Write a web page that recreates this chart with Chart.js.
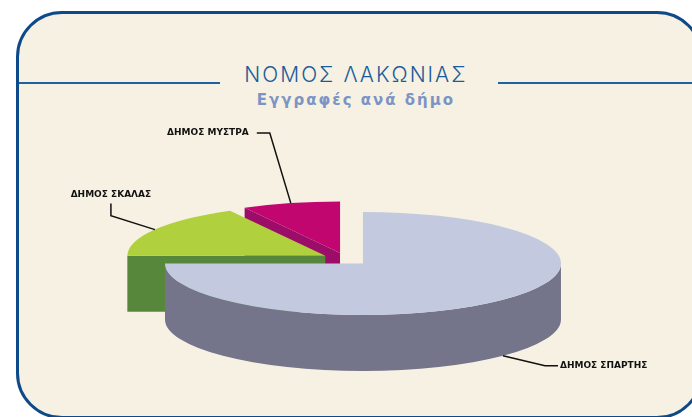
<!DOCTYPE html>
<html lang="el">
<head>
<meta charset="utf-8">
<title>Νομός Λακωνίας - Εγγραφές ανά δήμο</title>
<script src="https://cdn.jsdelivr.net/npm/chart.js@4.4.1/dist/chart.umd.min.js"></script>
<style>
  html, body { margin: 0; padding: 0; background: #ffffff; }
  #wrap { position: relative; width: 692px; height: 417px; overflow: hidden; }
  .card {
    position: absolute; left: 16px; top: 11px; width: 687px; height: 408px;
    box-sizing: border-box; border: 3px solid #0e4a8a; border-radius: 46px;
    background: #f6f1e2;
  }
  .rule { position: absolute; top: 82px; height: 2px; background: #1f62a0; }
  .rule.left { left: 19px; width: 201px; }
  .rule.right { left: 498px; width: 200px; }
  h1, h2 { position: absolute; left: 0; width: 712px; margin: 0; text-align: center; }
  h1 { top: 64px; font: 300 21px/21px Inter, sans-serif; letter-spacing: 2px; color: #1a5c9b; }
  h2 { top: 93px; font: bold 15px/15px "DejaVu Sans", sans-serif; letter-spacing: 2px; color: #7b94c5; }
  #pie { position: absolute; left: 0; top: 0; }
</style>
</head>
<body>
<div id="wrap">
  <div class="card"></div>
  <div class="rule left"></div>
  <div class="rule right"></div>
  <h1>ΝΟΜΟΣ ΛΑΚΩΝΙΑΣ</h1>
  <h2>Εγγραφές ανά δήμο</h2>
  <canvas id="pie" width="692" height="417"></canvas>
</div>
<script>
// --- data: share of registrations per municipality (%) ---
var districts = ['ΔΗΜΟΣ ΣΠΑΡΤΗΣ', 'ΔΗΜΟΣ ΣΚΑΛΑΣ', 'ΔΗΜΟΣ ΜΥΣΤΡΑ'];
var shares = [75, 17, 8];

// top face / side wall colours for each slice
var topColors  = ['#c3cadf', '#b1d03e', '#c1066f'];
var sideColors = ['#74748a', '#57873b', '#9c0d69'];

// 3d look: vertical squash of the disc and wall height in px
var tilt = 0.26;
var depth = 56;

// leader lines: elbow relative to the rim anchor, then a short tail
var leaders = [
  { elbow: [42, 10],   tail: [13, 0],   align: 'left',   gap: 2 },
  { elbow: [-44, -14], tail: [0, -12],  align: 'center', gap: 9 },
  { elbow: [-21, -70], tail: [-13, 0],  align: 'right',  gap: 8 }
];

function sliceGeometry(chart) {
  var meta = chart.getDatasetMeta(0);
  return meta.data.map(function(arc, i) {
    var a = arc.getProps(['x', 'y', 'startAngle', 'endAngle', 'outerRadius'], true);
    var mid = (a.startAngle + a.endAngle) / 2;
    var off = arc.options.offset || 0;
    return {
      i: i,
      start: a.startAngle,
      end: a.endAngle,
      mid: mid,
      r: a.outerRadius,
      cx: a.x + Math.cos(mid) * off,
      cy: a.y + Math.sin(mid) * off * tilt
    };
  });
}

function drawSlice(ctx, s) {
  var rx = s.r, ry = s.r * tilt;

  ctx.fillStyle = sideColors[s.i];
  // radial cut faces that turn towards the viewer
  [[s.start, Math.cos(s.start) < -1e-9], [s.end, Math.cos(s.end) > 1e-9]].forEach(function(f) {
    if (!f[1]) return;
    var px = s.cx + Math.cos(f[0]) * rx;
    var py = s.cy + Math.sin(f[0]) * ry;
    ctx.beginPath();
    ctx.moveTo(s.cx, s.cy);
    ctx.lineTo(px, py);
    ctx.lineTo(px, py + depth);
    ctx.lineTo(s.cx, s.cy + depth);
    ctx.closePath();
    ctx.fill();
  });

  // outer wall, only the front half of the rim
  for (var k = -1; k <= 1; k++) {
    var a = Math.max(s.start, 2 * Math.PI * k);
    var b = Math.min(s.end, 2 * Math.PI * k + Math.PI);
    if (b <= a) continue;
    ctx.beginPath();
    ctx.ellipse(s.cx, s.cy, rx, ry, 0, a, b);
    ctx.ellipse(s.cx, s.cy + depth, rx, ry, 0, b, a, true);
    ctx.closePath();
    ctx.fill();
  }

  // top face
  ctx.fillStyle = topColors[s.i];
  ctx.beginPath();
  ctx.moveTo(s.cx, s.cy);
  ctx.ellipse(s.cx, s.cy, rx, ry, 0, s.start, s.end);
  ctx.closePath();
  ctx.fill();
}

var pie3d = {
  id: 'pie3d',
  beforeDatasetsDraw: function(chart) {
    var ctx = chart.ctx;
    var slices = sliceGeometry(chart);
    ctx.save();
    // paint back slices first
    slices.slice().sort(function(p, q) { return p.cy - q.cy; }).forEach(function(s) {
      drawSlice(ctx, s);
    });
    ctx.restore();
    return false;
  },
  afterDraw: function(chart) {
    var ctx = chart.ctx;
    var slices = sliceGeometry(chart);
    ctx.save();
    ctx.strokeStyle = '#111111';
    ctx.lineWidth = 1.5;
    ctx.fillStyle = '#111111';
    ctx.font = 'bold 9px "DejaVu Sans", sans-serif';
    ctx.textBaseline = 'middle';
    slices.forEach(function(s) {
      var l = leaders[s.i];
      var ax = s.cx + Math.cos(s.mid) * s.r;
      var ay = s.cy + Math.sin(s.mid) * s.r * tilt + (Math.sin(s.mid) > 0 ? depth : 0);
      var ex = ax + l.elbow[0], ey = ay + l.elbow[1];
      var tx = ex + l.tail[0], ty = ey + l.tail[1];
      ctx.beginPath();
      ctx.moveTo(ax, ay);
      ctx.lineTo(ex, ey);
      ctx.lineTo(tx, ty);
      ctx.stroke();
      ctx.textAlign = l.align;
      if (l.align === 'left') ctx.fillText(districts[s.i], tx + l.gap, ty);
      else if (l.align === 'right') ctx.fillText(districts[s.i], tx - l.gap, ty);
      else ctx.fillText(districts[s.i], tx, ty - l.gap);
    });
    ctx.restore();
  }
};

new Chart(document.getElementById('pie'), {
  type: 'pie',
  data: {
    labels: districts,
    datasets: [{
      data: shares,
      backgroundColor: topColors,
      borderWidth: 0,
      offset: 24,
      radius: 198
    }]
  },
  options: {
    responsive: false,
    animation: false,
    events: [],
    layout: { padding: { top: 101, bottom: 0, left: 0, right: 0 } },
    plugins: {
      legend: { display: false },
      tooltip: { enabled: false }
    }
  },
  plugins: [pie3d]
});
</script>
</body>
</html>
